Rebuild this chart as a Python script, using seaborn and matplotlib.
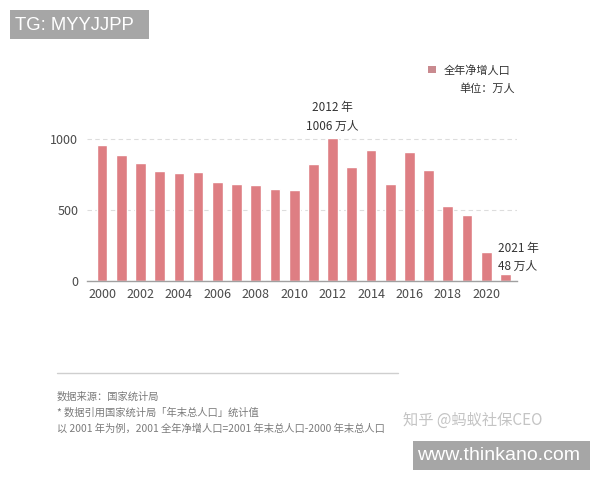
import matplotlib
matplotlib.use("Agg")
import matplotlib.pyplot as plt
import seaborn as sns
import pandas as pd
from matplotlib.patches import Rectangle
from matplotlib.lines import Line2D

years = [str(y) for y in range(2000, 2022)]
net_increase = [957, 884, 826, 774, 761, 768, 692, 681, 673, 648, 641,
                825, 1006, 804, 920, 680, 906, 779, 530, 467, 204, 48]
tick_labels = ["2000", "2002", "2004", "2006", "2008", "2010",
               "2012", "2014", "2016", "2018", "2020"]
y_ticks = [0, 500, 1000]
series_name = "全年净增人口"

sns.set_theme(style="white")
plt.rcParams['font.family'] = ['Noto Sans CJK SC', 'DejaVu Sans']

W, H = 600, 480
fig = plt.figure(figsize=(6, 4.8), dpi=100)
fig.patch.set_facecolor("white")

def fx(px):
    return px / W

def fy(py):
    return 1 - py / H

ax = fig.add_axes([fx(86.7), 199 / H, 430.3 / W, 149.5 / H])
df = pd.DataFrame({"year": years, "value": net_increase})
sns.barplot(data=df, x="year", y="value", color="#de7e83", saturation=1,
            width=0.56, ax=ax, label=series_name)

ax.set_xlim(-0.8, 21.6)
ax.set_ylim(0, 1050)
ax.set_xlabel("")
ax.set_ylabel("")
ax.set_xticks([years.index(t) for t in tick_labels])
ax.set_xticklabels(tick_labels)
ax.set_yticks(y_ticks)
ax.set_yticklabels([str(v) for v in y_ticks])
ax.tick_params(axis="both", length=0, labelsize=9, colors="#4a4a4a")
ax.tick_params(axis="x", pad=5)
ax.tick_params(axis="y", pad=6)
for s in ["top", "right", "left"]:
    ax.spines[s].set_visible(False)
ax.spines["bottom"].set_color("#a0a0a0")
ax.spines["bottom"].set_linewidth(1.0)
ax.yaxis.grid(True, color="#dddddd", linestyle=(0, (4, 3)), linewidth=0.8)
ax.set_axisbelow(True)
ax.set_facecolor("white")

leg = ax.legend(loc="center left", bbox_to_anchor=(fx(428), fy(70)),
                bbox_transform=fig.transFigure, frameon=False,
                handlelength=0.7, handleheight=0.7, handletextpad=0.7,
                borderpad=0, borderaxespad=0, fontsize=8)
for t in leg.get_texts():
    t.set_color("#333333")
for hnd in leg.legend_handles:
    hnd.set_facecolor("#c98a8f")
    hnd.set_edgecolor("none")

fig.text(fx(515), fy(89), "单位：万人", ha="right", va="center",
         fontsize=8, color="#333333")

fig.text(fx(332), fy(108), "2012 年", ha="center", va="center",
         fontsize=8.5, color="#333333")
fig.text(fx(332), fy(126), "1006 万人", ha="center", va="center",
         fontsize=8.5, color="#333333")
fig.text(fx(498), fy(248), "2021 年", ha="left", va="center",
         fontsize=8.5, color="#333333")
fig.text(fx(498), fy(266), "48 万人", ha="left", va="center",
         fontsize=8.5, color="#333333")

fig.add_artist(Line2D([fx(57), fx(398)], [fy(373), fy(373)],
                      transform=fig.transFigure, color="#cfcfcf", lw=1))
foot = ["数据来源：国家统计局",
        "* 数据引用国家统计局「年末总人口」统计值",
        "以 2001 年为例，2001 全年净增人口=2001 年末总人口-2000 年末总人口"]
for i, line in enumerate(foot):
    fig.text(fx(57), fy(397 + 16 * i), line, ha="left", va="center",
             fontsize=7.4, color="#7a7a7a")

fig.text(fx(403), fy(420), "知乎 @蚂蚁社保CEO", ha="left", va="center",
         fontsize=11, color="#c4c4c4")

fig.add_artist(Rectangle((fx(10), fy(39)), 139 / W, 29 / H,
                         transform=fig.transFigure, color="#a6a6a6", lw=0))
fig.text(fx(15), fy(25), "TG: MYYJJPP", ha="left", va="center",
         fontsize=13.3, color="white", family="Liberation Sans")
fig.add_artist(Rectangle((fx(413), fy(470)), 177 / W, 29 / H,
                         transform=fig.transFigure, color="#a6a6a6", lw=0))
fig.text(fx(417), fy(455), "www.thinkano.com", ha="left", va="center",
         fontsize=14, color="white", family="Liberation Sans")

fig.savefig("out.png", dpi=100)
